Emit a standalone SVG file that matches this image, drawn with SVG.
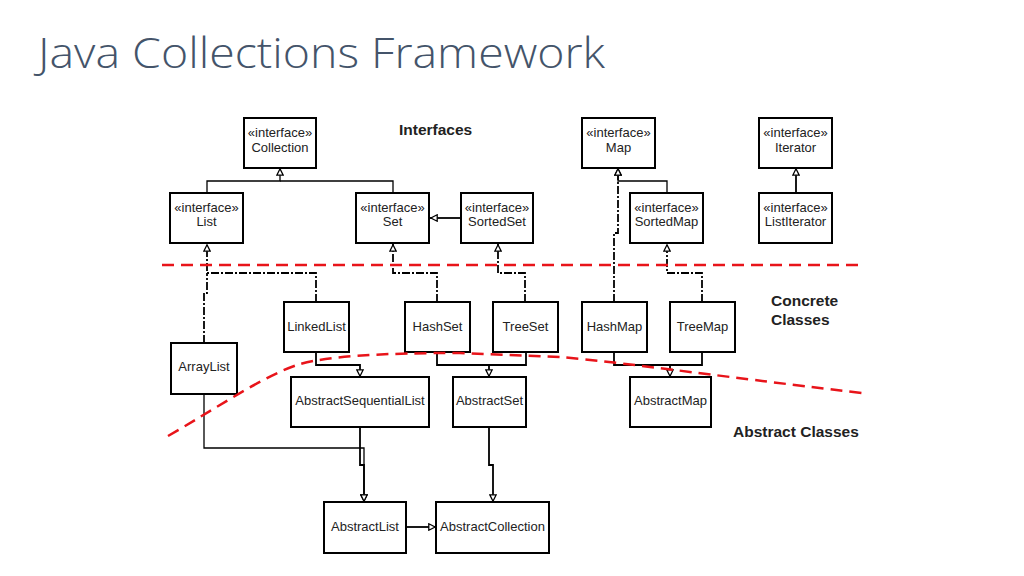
<svg xmlns="http://www.w3.org/2000/svg" width="1024" height="576" viewBox="0 0 1024 576">
<style>
.box{fill:#fff;stroke:#000;stroke-width:2}
.t{font-family:"Liberation Sans",Arial,sans-serif;font-size:13px;fill:#222;text-anchor:middle}
.b{font-family:"Liberation Sans",Arial,sans-serif;font-size:15.5px;font-weight:bold;fill:#222}
.c{fill:none;stroke:#000;stroke-width:1.8}
.thin{stroke-width:1.3}
.dd{fill:none;stroke:#000;stroke-width:1.8;stroke-dasharray:8 2 2 2}
.red{fill:none;stroke:#e8141a;stroke-width:2.5;stroke-dasharray:12 7}
</style>
<defs>
<marker id="tri" viewBox="0 0 10 10" refX="10" refY="5" markerWidth="8" markerHeight="8" orient="auto" markerUnits="userSpaceOnUse">
<path d="M1,1 L9,5 L1,9 z" fill="#fff" stroke="#000" stroke-width="1.6"/>
</marker>
</defs>
<rect width="1024" height="576" fill="#fff"/>
<text x="38" y="68" font-family="'Open Sans','Noto Sans',sans-serif" font-size="42" font-weight="300" fill="#44546a" textLength="567" lengthAdjust="spacingAndGlyphs">Java Collections Framework</text>

<text class="b" x="399" y="135">Interfaces</text>
<text class="b" x="771" y="306">Concrete</text>
<text class="b" x="771" y="325">Classes</text>
<text class="b" x="733" y="437">Abstract Classes</text>

<g id="connectors">
<path class="c thin" d="M207,193 V181 H280 V168" marker-end="url(#tri)"/>
<path class="c thin" d="M393,193 V181 H280"/>
<path class="c" d="M461,218 H430" marker-end="url(#tri)"/>
<path class="c thin" d="M667,193 V181 H618 V168" marker-end="url(#tri)"/>
<path class="c" d="M796,193 V168" marker-end="url(#tri)"/>
<path class="c" d="M316,352 V365 H360 V377" marker-end="url(#tri)"/>
<path class="c" d="M437,352 V365 H526 V352"/>
<path class="c" d="M489,365 V377" marker-end="url(#tri)"/>
<path class="c" d="M614,352 V365 H702 V352"/>
<path class="c" d="M670,365 V377" marker-end="url(#tri)"/>
<path class="c thin" d="M204,394 V448 H364 V502" marker-end="url(#tri)"/>
<path class="c" d="M360,427 V465 H364 V502" marker-end="url(#tri)"/>
<path class="c" d="M489,427 V465 H493 V502" marker-end="url(#tri)"/>
<path class="c" d="M406,527 H436" marker-end="url(#tri)"/>
<path class="dd" d="M316,302 V273 H207 V244" marker-end="url(#tri)"/>
<path class="dd" d="M204,343 V293 H207 V273"/>
<path class="dd" d="M437,302 V273 H393 V244" marker-end="url(#tri)"/>
<path class="dd" d="M525,302 V273 H498 V244" marker-end="url(#tri)"/>
<path class="dd" d="M702,302 V273 H667 V244" marker-end="url(#tri)"/>
<path class="dd" d="M614,302 V233 H618 V168" marker-end="url(#tri)"/>
</g>

<g id="n-collection"><rect class="box" x="244" y="118" width="72" height="50"/><text class="t" x="280" y="137">«interface»</text><text class="t" x="280" y="152">Collection</text></g>
<g id="n-list"><rect class="box" x="170" y="193" width="73" height="50"/><text class="t" x="206.5" y="212">«interface»</text><text class="t" x="206.5" y="226">List</text></g>
<g id="n-set"><rect class="box" x="356" y="193" width="73" height="50"/><text class="t" x="392.5" y="212">«interface»</text><text class="t" x="392.5" y="226">Set</text></g>
<g id="n-sortedset"><rect class="box" x="461" y="193" width="72" height="50"/><text class="t" x="497" y="212">«interface»</text><text class="t" x="497" y="226">SortedSet</text></g>
<g id="n-map"><rect class="box" x="582" y="118" width="73" height="50"/><text class="t" x="618.5" y="137">«interface»</text><text class="t" x="618.5" y="152">Map</text></g>
<g id="n-sortedmap"><rect class="box" x="630" y="193" width="73" height="50"/><text class="t" x="666.5" y="212">«interface»</text><text class="t" x="666.5" y="226">SortedMap</text></g>
<g id="n-iterator"><rect class="box" x="759" y="118" width="73" height="50"/><text class="t" x="795.5" y="137">«interface»</text><text class="t" x="795.5" y="152">Iterator</text></g>
<g id="n-listiterator"><rect class="box" x="759" y="193" width="73" height="50"/><text class="t" x="795.5" y="212">«interface»</text><text class="t" x="795.5" y="226">ListIterator</text></g>

<g id="n-linkedlist"><rect class="box" x="284" y="302" width="65" height="50"/><text class="t" x="316.5" y="331">LinkedList</text></g>
<g id="n-hashset"><rect class="box" x="405" y="302" width="65" height="50"/><text class="t" x="437.5" y="331">HashSet</text></g>
<g id="n-treeset"><rect class="box" x="493" y="302" width="65" height="50"/><text class="t" x="525.5" y="331">TreeSet</text></g>
<g id="n-hashmap"><rect class="box" x="582" y="302" width="65" height="50"/><text class="t" x="614.5" y="331">HashMap</text></g>
<g id="n-treemap"><rect class="box" x="670" y="302" width="65" height="50"/><text class="t" x="702.5" y="331">TreeMap</text></g>
<g id="n-arraylist"><rect class="box" x="171" y="343" width="66" height="51"/><text class="t" x="204" y="371">ArrayList</text></g>
<g id="n-abstractsequentiallist"><rect class="box" x="291" y="377" width="138" height="50"/><text class="t" x="360" y="405">AbstractSequentialList</text></g>
<g id="n-abstractset"><rect class="box" x="453" y="377" width="73" height="50"/><text class="t" x="489.5" y="405">AbstractSet</text></g>
<g id="n-abstractmap"><rect class="box" x="630" y="377" width="81" height="50"/><text class="t" x="670.5" y="405">AbstractMap</text></g>
<g id="n-abstractlist"><rect class="box" x="324" y="502" width="82" height="51"/><text class="t" x="365" y="531">AbstractList</text></g>
<g id="n-abstractcollection"><rect class="box" x="436" y="502" width="113" height="51"/><text class="t" x="492.5" y="531">AbstractCollection</text></g>

<g id="boundaries">
<path class="red" d="M162,265 H862"/>
<path class="red" d="M168,436 C220,406 265,375 300,364 C330,356 380,353 460,353 L560,357 C620,362 700,374 862,393"/>
</g>
</svg>
